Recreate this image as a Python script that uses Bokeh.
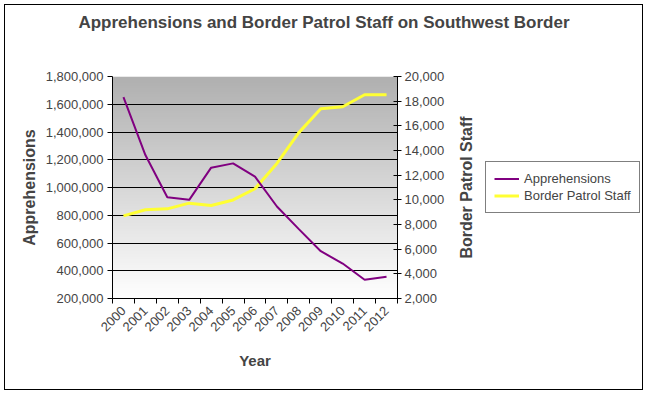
import math
import numpy as np
from bokeh.plotting import figure
from bokeh.layouts import column, row
from bokeh.models import (LinearAxis, Range1d, FixedTicker, NumeralTickFormatter,
                          Legend, LegendItem)
from bokeh.embed import file_html
from bokeh.resources import INLINE

# ---- data ----
years = ["2000", "2001", "2002", "2003", "2004", "2005", "2006",
         "2007", "2008", "2009", "2010", "2011", "2012"]
apprehensions = [1652000, 1234000, 930000, 911000, 1143000, 1174000, 1078000,
                 863000, 700000, 541000, 452000, 335000, 357000]
staff = [8700, 9200, 9270, 9730, 9540, 9990, 10900,
         12950, 15450, 17380, 17550, 18520, 18520]
left_ticks = [200000, 400000, 600000, 800000, 1000000, 1200000, 1400000, 1600000, 1800000]
right_ticks = [2000, 4000, 6000, 8000, 10000, 12000, 14000, 16000, 18000, 20000]
title_text = "Apprehensions and Border Patrol Staff on Southwest Border"

FONT = "Liberation Sans"
PURPLE = "#800080"
YELLOW = "#ffff33"
n = len(years)
xc = [i + 0.5 for i in range(n)]

# ---------- title strip ----------
tfig = figure(width=637, height=61, output_backend="svg", toolbar_location=None,
              title=title_text, x_axis_location=None, y_axis_location=None,
              min_border_left=0, min_border_right=0, min_border_top=18,
              min_border_bottom=0)
tfig.grid.visible = False
tfig.outline_line_color = None
tfig.title.text_font = FONT
tfig.title.text_font_size = "17px"
tfig.title.text_font_style = "bold"
tfig.title.align = "center"

# ---------- main chart ----------
p = figure(width=449, height=323, frame_width=285, frame_height=222,
           output_backend="svg", toolbar_location=None,
           x_range=Range1d(0, n), y_range=Range1d(left_ticks[0], left_ticks[-1]),
           min_border_left=107, min_border_top=10, min_border_right=57,
           min_border_bottom=91)
p.extra_y_ranges = {"staff": Range1d(right_ticks[0], right_ticks[-1])}
p.outline_line_color = None

# gradient background (style only)
N = 256
img = np.empty((N, 1), dtype=np.uint32)
view = img.view(dtype=np.uint8).reshape((N, 1, 4))
t = np.linspace(0, 1, N)  # 0 bottom -> 1 top
g = (255 - t * (255 - 176)).astype(np.uint8)
view[:, 0, 0] = g
view[:, 0, 1] = g
view[:, 0, 2] = g
view[:, 0, 3] = 255
p.image_rgba(image=[img], x=0, y=left_ticks[0], dw=n, dh=left_ticks[-1] - left_ticks[0],
             level="image")

p.line(xc, staff, y_range_name="staff", line_color=YELLOW, line_width=3)
p.line(xc, apprehensions, line_color=PURPLE, line_width=2)

p.xgrid.visible = False
p.ygrid.ticker = FixedTicker(ticks=left_ticks[1:-1])
p.ygrid.grid_line_color = "black"
p.ygrid.grid_line_width = 1

ya = p.yaxis[0]
ya.ticker = FixedTicker(ticks=left_ticks)
ya.formatter = NumeralTickFormatter(format="0,0")
ya.axis_label = "Apprehensions"
ya.axis_label_text_font = FONT
ya.axis_label_text_font_style = "bold"
ya.axis_label_text_font_size = "16px"
ya.major_label_text_font = FONT
ya.major_label_text_font_size = "13px"
ya.major_tick_out = 5
ya.major_tick_in = 0
ya.minor_tick_line_color = None
ya.major_label_standoff = 4

ra = LinearAxis(y_range_name="staff", ticker=FixedTicker(ticks=right_ticks),
                formatter=NumeralTickFormatter(format="0,0"))
ra.major_label_text_font = FONT
ra.major_label_text_font_size = "13px"
ra.major_tick_out = 4
ra.major_tick_in = 4
ra.minor_tick_line_color = None
ra.major_label_standoff = 3
p.add_layout(ra, "right")

xa = p.xaxis[0]
xa.ticker = FixedTicker(ticks=xc, minor_ticks=list(range(n + 1)))
xa.major_label_overrides = {xc[i]: years[i] for i in range(n)}
xa.major_label_orientation = math.pi / 4
xa.major_tick_out = 0
xa.major_tick_in = 0
xa.minor_tick_out = 5
xa.minor_tick_in = 0
xa.minor_tick_line_color = "black"
xa.major_label_text_font = FONT
xa.major_label_text_font_size = "13px"
xa.axis_label = "Year"
xa.axis_label_text_font = FONT
xa.axis_label_text_font_style = "bold"
xa.axis_label_text_font_size = "15px"
xa.axis_label_standoff = 14

# ---------- right strip: staff axis title + legend ----------
q = figure(width=188, height=323, frame_height=222, output_backend="svg",
           toolbar_location=None, x_range=Range1d(-2, -1), y_range=Range1d(-2, -1),
           x_axis_location=None, y_axis_location="left",
           min_border_left=27, min_border_right=0, min_border_top=10,
           min_border_bottom=91)
q.grid.visible = False
q.outline_line_color = None
# series drawn again here (outside the visible range) only to key the legend
q2 = q.line(xc, staff, line_color=YELLOW, line_width=3)
q1 = q.line(xc, apprehensions, line_color=PURPLE, line_width=2)
qa = q.yaxis[0]
qa.ticker = FixedTicker(ticks=[])
qa.axis_line_color = None
qa.major_tick_line_color = None
qa.minor_tick_line_color = None
qa.major_label_text_font_size = "0px"
qa.axis_label = "Border Patrol Staff"
qa.axis_label_text_font = FONT
qa.axis_label_text_font_style = "bold"
qa.axis_label_text_font_size = "16px"
qa.axis_label_standoff = 8

legend = Legend(items=[LegendItem(label="Apprehensions", renderers=[q1]),
                       LegendItem(label="Border Patrol Staff", renderers=[q2])],
                location=(3, 85), border_line_color="black", border_line_width=1,
                label_text_font=FONT, label_text_font_size="13px",
                glyph_width=25, glyph_height=17, label_height=17, spacing=0,
                padding=8, label_standoff=5, margin=0, background_fill_color="white")
q.add_layout(legend)

layout = column(tfig, row(p, q),
                styles={"margin": "4px 0 0 4px", "border": "1px solid black"})

open("out.html", "w").write(file_html(layout, INLINE))
